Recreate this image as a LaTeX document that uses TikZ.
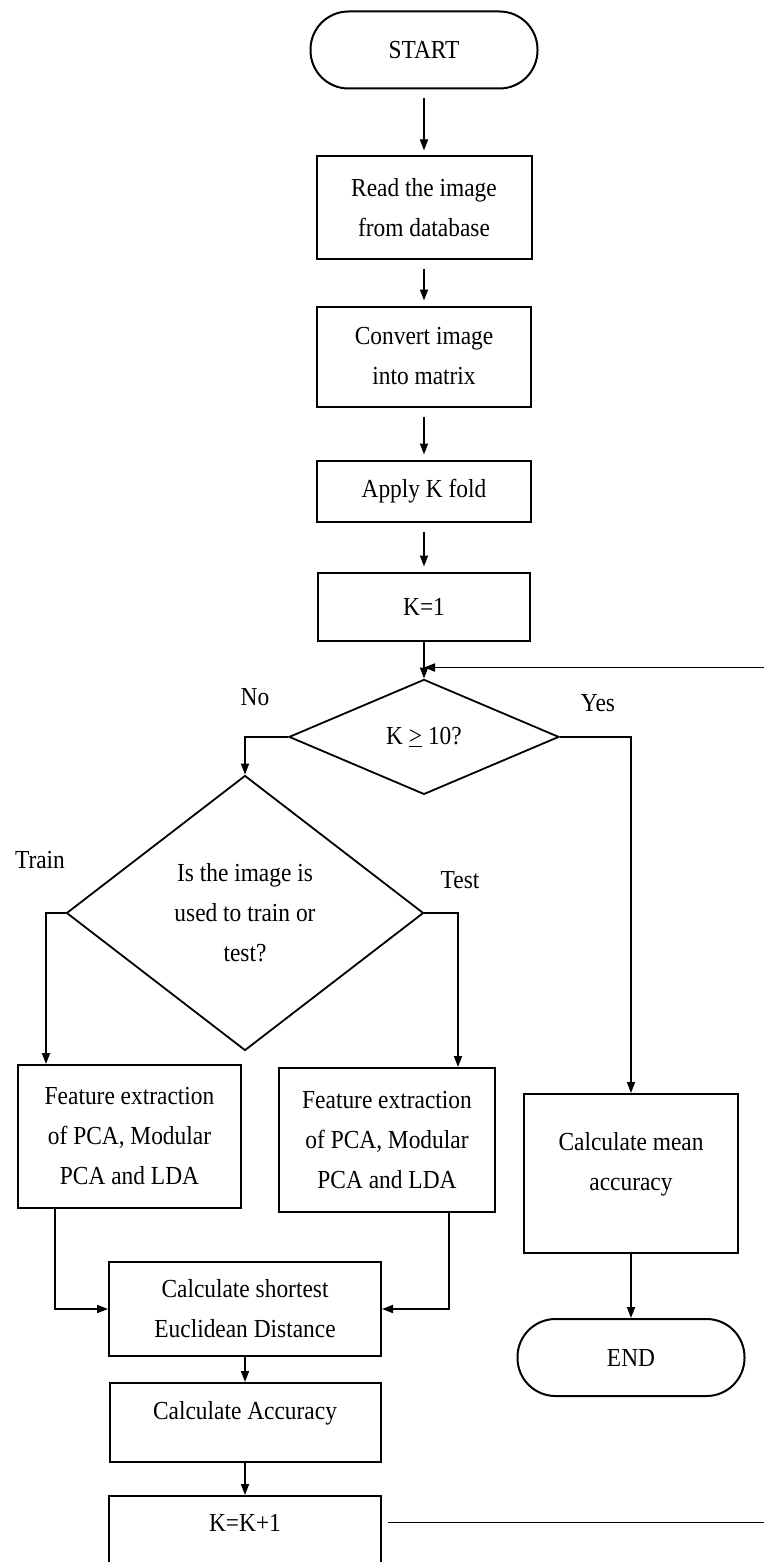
\documentclass[tikz,border=0pt]{standalone}
\usepackage{fontspec}
\setmainfont{Liberation Serif}[FakeStretch=0.9]
\usepackage{tikz}
\usetikzlibrary{arrows.meta,positioning,shapes.geometric}
\tikzset{
	box/.style={draw, align=center, inner sep=4pt, line width=2pt},
	terminal/.style={draw, rounded corners=38pt, align=center, line width=2pt,
		minimum width=227pt, minimum height=77pt},
	decision/.style={draw, diamond, align=center, inner sep=0pt, line width=1.8pt},
	arrow/.style={-{Triangle[length=11pt,width=8pt]}, line width=1.8pt},
	gaparrow/.style={arrow, shorten <=9pt, shorten >=5pt},
	lbl/.style={inner sep=0pt}
}

\begin{document}
\begin{tikzpicture}[x=1pt, y=1pt,
			font=\fontsize{26}{40}\selectfont,
			]
			\useasboundingbox (0,0) rectangle (763,-1562);
			
			%% -- Main column (top)
			\node[terminal] (start) at (424,-50) {START};
			
			\node[box, minimum width=215pt, minimum height=102pt,
			below=66pt of start] (read)
			{Read the image\\from database};
			
			\node[box, minimum width=214pt, minimum height=100pt,
			below=46pt of read] (convert)
			{Convert image\\into matrix};
			
			\node[box, minimum width=214pt, minimum height=61pt,
			below=52pt of convert] (kfold)
			{Apply K fold};
			
			\node[box, minimum width=212pt, minimum height=68pt,
			below=49pt of kfold] (kone)
			{K=1};
			
			\node[decision, minimum width=270pt, minimum height=115pt,
			below=37pt of kone] (test10)
			{K \underline{>} 10?};
			
			\draw[gaparrow] (start) -- (read);
			\draw[gaparrow] (read) -- (convert);
			\draw[gaparrow] (convert) -- (kfold);
			\draw[gaparrow] (kfold) -- (kone);
			\draw[arrow] (kone) -- (test10);
			
			%% -- Train / test branch
			\node[decision, minimum width=357pt, minimum height=275pt]
			(usage) at (245,-913)
			{Is the image is\\used to train or\\test?};
			
			\node[box, minimum width=223pt, minimum height=143pt]
			(feattrain) at (129.5,-1136.5)
			{Feature extraction\\of PCA, Modular\\PCA and LDA};
			
			\node[box, minimum width=216pt, minimum height=144pt]
			(feattest) at (387,-1140)
			{Feature extraction\\of PCA, Modular\\PCA and LDA};
			
			\node[box, minimum width=272pt, minimum height=94pt]
			(dist) at (245,-1309)
			{Calculate shortest\\Euclidean Distance};
			
			\node[box, minimum width=271pt, minimum height=79pt,
			text height=18pt, text depth=24pt,
			below=25pt of dist] (acc)
			{Calculate Accuracy};
			
			\node[box, minimum width=272pt, minimum height=67pt,
			text height=18pt, text depth=14pt,
			below=32pt of acc] (kinc)
			{K=K+1};
			
			%% -- Exit branch (right side)
			\node[box, minimum width=214pt, minimum height=159pt]
			(mean) at (631,-1173.5)
			{Calculate mean\\accuracy\\[-16pt]};
			
			\node[terminal, below=64pt of mean] (finish) {END};
			
			%% -- Branch labels
			\node[lbl] (nolbl) at (255,-697) {No};
			\node[lbl] (yeslbl) at (598,-703) {Yes};
			\node[lbl] (trainlbl) at (40,-860) {Train};
			\node[lbl] (testlbl) at (460,-880) {Test};
			
			%% -- Connectors
			\draw[arrow] (test10.west) -| (usage.north);
			\draw[arrow] (test10.east) -| (mean.north);
			\draw[arrow] (usage.west) -| ([xshift=29pt]feattrain.north west);
			\draw[arrow] (usage.east) -| ([xshift=-38pt]feattest.north east);
			\draw[arrow] ([xshift=38pt]feattrain.south west) |- (dist.west);
			\draw[arrow] ([xshift=-47pt]feattest.south east) |- (dist.east);
			\draw[arrow] (dist) -- (acc);
			\draw[arrow] (acc) -- (kinc);
			\draw[arrow] (mean) -- (finish);
			
			%% -- Loop back to the test (runs off the right edge)
			\coordinate[above=11pt of test10.north] (loopin);
			\coordinate (rim) at (780,0);
			\draw[arrow] ([xshift=6pt,yshift=7pt]kinc.east) -- ([xshift=6pt,yshift=7pt]kinc.east -| rim) |- (loopin);
			
\end{tikzpicture}
\end{document}
